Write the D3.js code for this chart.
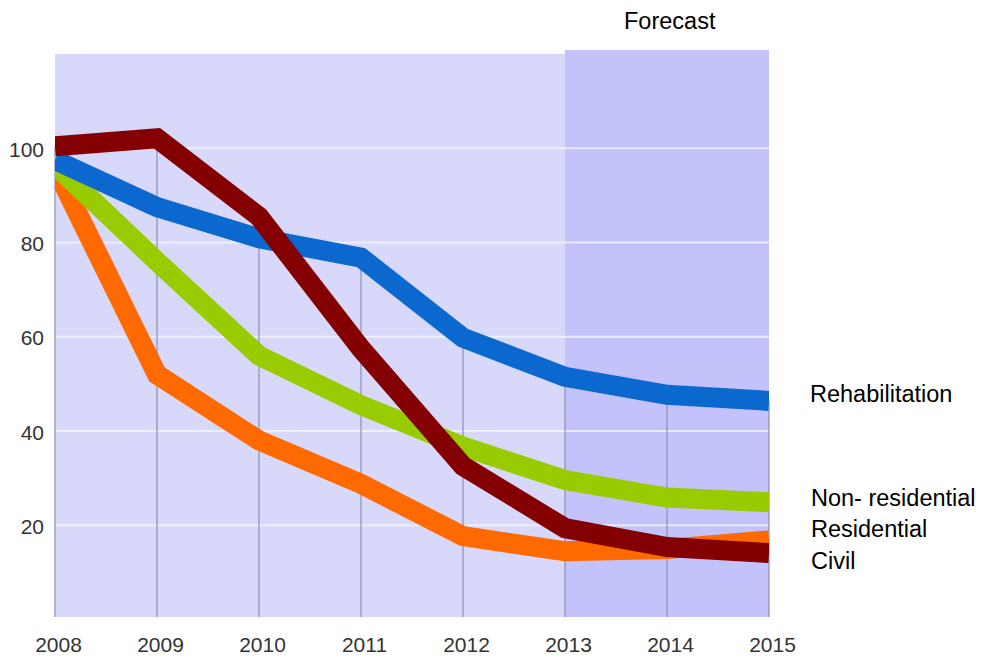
<!DOCTYPE html>
<html>
<head>
<meta charset="utf-8">
<script src="https://cdn.jsdelivr.net/npm/d3@7"></script>
<style>
  html, body { margin: 0; padding: 0; background: #ffffff; }
  svg { display: block; font-family: "Liberation Sans", Arial, sans-serif; }
</style>
</head>
<body>
<svg id="chart" width="998" height="656"></svg>
<script>
// Years on the horizontal axis
const years = [2008, 2009, 2010, 2011, 2012, 2013, 2014, 2015];
const forecastFrom = 2013;

// Index values per segment
const civil          = [96.0, 52.0, 38.0, 28.8, 17.7, 14.5, 15.0, 16.8];
const nonResidential = [96.5, 76.0, 56.0, 45.5, 36.7, 29.6, 25.9, 24.9];
const rehabilitation = [97.5, 87.5, 80.9, 76.8, 59.8, 51.5, 47.7, 46.4];
const residential    = [100.4, 102.1, 85.5, 57.5, 32.6, 19.4, 15.4, 14.1];

// Y axis ticks
const yTicks = [20, 40, 60, 80, 100];

// Series in drawing order (last one on top)
const seriesNames  = ["Civil", "Non- residential", "Rehabilitation", "Residential"];
const seriesValues = [civil, nonResidential, rehabilitation, residential];
const seriesColors = ["#ff6a00", "#99cc00", "#0a68cf", "#840000"];

const svg = d3.select("#chart");

const plotLeft = 55, plotRight = 769, plotTop = 54, plotBottom = 617;

const x = d3.scalePoint().domain(years).range([plotLeft, plotRight]);
const y = d3.scaleLinear().domain([0, 120]).range([619.6, plotTop]);

// Plot background
svg.append("rect")
  .attr("x", plotLeft).attr("y", plotTop)
  .attr("width", plotRight - plotLeft).attr("height", plotBottom - plotTop)
  .attr("fill", "#d8d8fa");

// Forecast band
svg.append("rect")
  .attr("x", x(forecastFrom)).attr("y", plotTop - 4)
  .attr("width", plotRight - x(forecastFrom)).attr("height", plotBottom - plotTop + 4)
  .attr("fill", "#c3c2fa");

// Horizontal gridlines
svg.append("g")
  .selectAll("line")
  .data(yTicks)
  .join("line")
  .attr("x1", plotLeft).attr("x2", plotRight)
  .attr("y1", d => y(d)).attr("y2", d => y(d))
  .attr("stroke", "#f2f2fd").attr("stroke-opacity", 0.85)
  .attr("stroke-width", 2);

// Drop lines from the highest series value of each year down to the baseline
const topValues = years.map((yr, i) => d3.max(seriesValues, s => s[i]));
svg.append("g")
  .selectAll("line")
  .data(years)
  .join("line")
  .attr("x1", d => x(d)).attr("x2", d => x(d))
  .attr("y1", (d, i) => y(topValues[i]))
  .attr("y2", plotBottom)
  .attr("stroke", "#8a90b4")
  .attr("stroke-width", 1.2);

// Y axis labels
const yAxis = d3.axisLeft(y).tickValues(yTicks).tickSize(0).tickPadding(11);
const gy = svg.append("g")
  .attr("transform", `translate(${plotLeft},0)`)
  .call(yAxis);
gy.select(".domain").remove();
gy.selectAll("text")
  .attr("font-size", 21)
  .attr("font-family", "Liberation Sans, Arial, sans-serif")
  .attr("fill", "#333")
  .attr("dy", "0.38em");

// X axis labels
const xAxis = d3.axisBottom(x).tickSize(0).tickPadding(20);
const gx = svg.append("g")
  .attr("transform", `translate(3,${plotBottom})`)
  .call(xAxis);
gx.select(".domain").remove();
gx.selectAll("text")
  .attr("font-size", 21)
  .attr("font-family", "Liberation Sans, Arial, sans-serif")
  .attr("fill", "#333");

// Clip lines to the plot's horizontal extent
svg.append("clipPath").attr("id", "plotClip")
  .append("rect")
  .attr("x", plotLeft).attr("y", 0)
  .attr("width", plotRight - plotLeft).attr("height", 656);

const line = d3.line()
  .x((d, i) => x(years[i]))
  .y(d => y(d));

svg.append("g")
  .attr("clip-path", "url(#plotClip)")
  .selectAll("path")
  .data(seriesValues)
  .join("path")
  .attr("d", d => line(d))
  .attr("fill", "none")
  .attr("stroke", (d, i) => seriesColors[i])
  .attr("stroke-width", 20)
  .attr("stroke-linejoin", "miter")
  .attr("stroke-miterlimit", 4)
  .attr("stroke-linecap", "butt");

// Forecast caption
svg.append("text")
  .attr("x", 624).attr("y", 29)
  .attr("font-size", 23.5)
  .attr("fill", "#000")
  .text("Forecast");

// Series names at the right
const labelX = 811;
const labelItems = [
  { name: seriesNames[2], y: y(rehabilitation[rehabilitation.length - 1]) + 1 },
  { name: seriesNames[1], y: y(nonResidential[nonResidential.length - 1]) + 4 },
  { name: seriesNames[3], y: y(nonResidential[nonResidential.length - 1]) + 35 },
  { name: seriesNames[0], y: y(nonResidential[nonResidential.length - 1]) + 67 }
];
svg.append("g")
  .selectAll("text")
  .data(labelItems)
  .join("text")
  .attr("x", (d, i) => i === 0 ? labelX - 1 : labelX)
  .attr("y", d => d.y)
  .attr("font-size", 23.5)
  .attr("fill", "#000")
  .text(d => d.name);
</script>
</body>
</html>
